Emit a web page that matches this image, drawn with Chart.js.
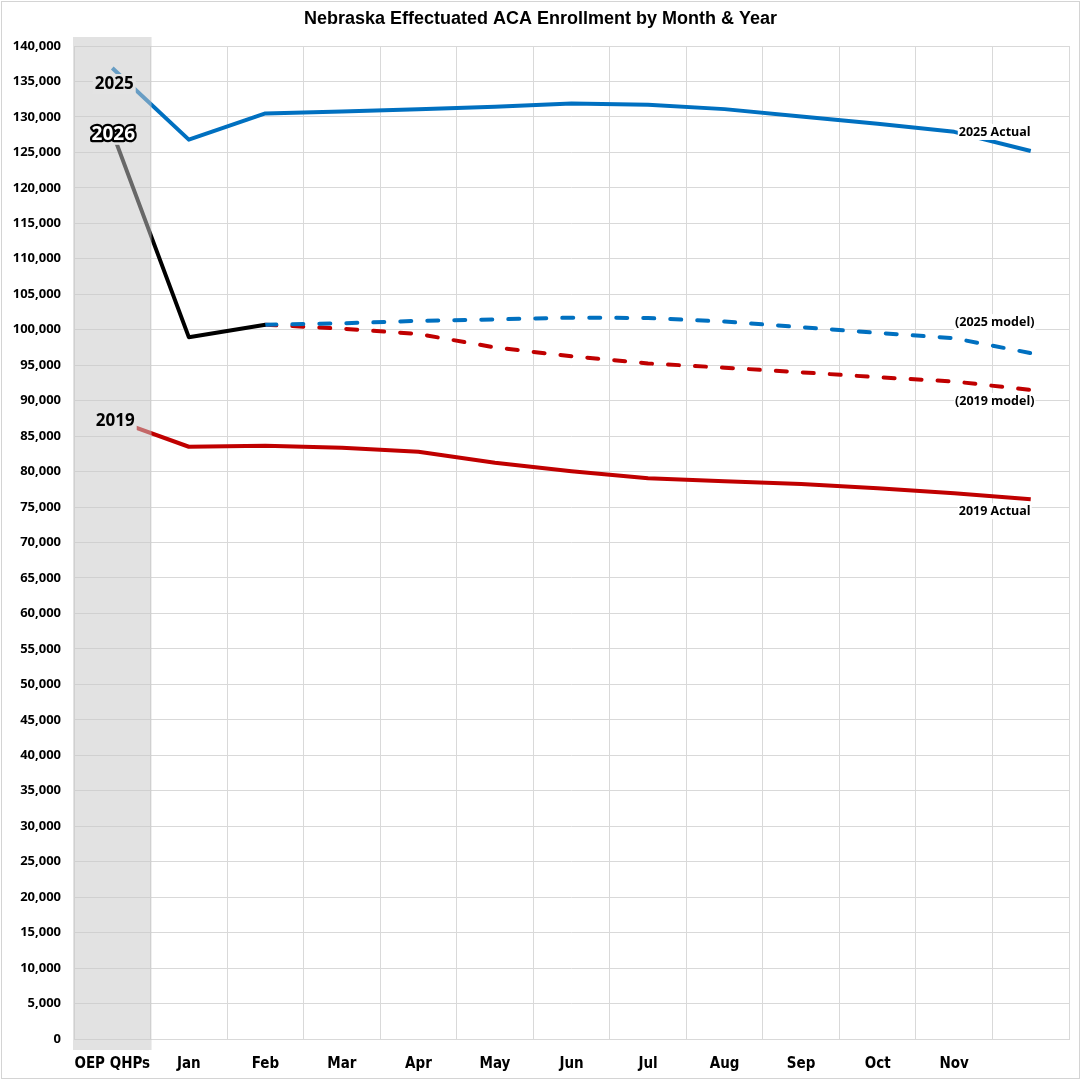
<!DOCTYPE html>
<html>
<head>
<meta charset="utf-8">
<title>Nebraska Effectuated ACA Enrollment</title>
<script src="https://cdn.jsdelivr.net/npm/chart.js@4.4.1/dist/chart.umd.min.js"></script>
<style>
  html, body { margin: 0; padding: 0; background: #fff; }
  #wrap { position: relative; width: 1081px; height: 1080px; }
</style>
</head>
<body>
<div id="wrap"><canvas id="enrollChart" width="1081" height="1080"></canvas></div>
<script>
// ---------- data ----------
const months = ['OEP QHPs', 'Jan', 'Feb', 'Mar', 'Apr', 'May', 'Jun', 'Jul', 'Aug', 'Sep', 'Oct', 'Nov', ''];

const actual2025 = [136900, 126800, 130500, 130750, 131100, 131450, 131900, 131700, 131100, 130050, 129050, 127900, 125200];
const actual2026 = [127900, 98950, 100700, null, null, null, null, null, null, null, null, null, null];
const model2025 = [null, null, 100700, 100900, 101250, 101450, 101700, 101650, 101150, 100350, 99550, 98800, 96700];
const model2019 = [null, null, 100700, 100150, 99400, 97500, 96250, 95250, 94650, 94000, 93300, 92700, 91500];
const actual2019 = [87400, 83500, 83650, 83350, 82800, 81250, 80050, 79050, 78650, 78250, 77650, 76950, 76100];

const yTicksMax = 140000;
const yTicksStep = 5000;

const BLUE = '#0070c0';
const RED = '#c00000';

// text labels tied to a dataset point: [datasetIndex, pointIndex, text, dx, dy, style]
const pointLabels = [
    [0, 0, '2025', 2, 16, 'left'],
    [1, 0, '2026', 1, 3, 'outline'],
    [4, 0, '2019', 3, 2, 'left'],
    [0, 12, '2025 Actual', -36, -19, 'right'],
    [2, 12, '(2025 model)', -36, -31, 'right'],
    [3, 12, '(2019 model)', -36, 11, 'right'],
    [4, 12, '2019 Actual', -36, 12, 'right']
];

const LABEL_FONT = '"Open Sans", Lato, sans-serif';

// 第一列的灰色遮罩 + 标题 + 标签
const decorPlugin = {
    id: 'decor',
    beforeDraw(chart) {
        const ctx = chart.ctx;
        ctx.save();
        ctx.fillStyle = '#fff';
        ctx.fillRect(0, 0, chart.width, chart.height);
        ctx.strokeStyle = '#d4d4d4';
        ctx.lineWidth = 1;
        ctx.strokeRect(1.5, 1.5, chart.width - 3, chart.height - 3);
        ctx.fillStyle = '#000';
        ctx.font = 'bold 18px "Liberation Sans", Arial, sans-serif';
        ctx.textAlign = 'center';
        ctx.textBaseline = 'middle';
        ctx.fillText('Nebraska Effectuated ACA Enrollment by Month & Year', chart.width / 2, 19);
        ctx.restore();
    },
    afterDatasetsDraw(chart) {
        const ctx = chart.ctx;
        const area = chart.chartArea;
        const x = chart.scales.x;
        const half = (x.getPixelForValue(1) - x.getPixelForValue(0)) / 2;
        ctx.save();
        // translucent gray column over OEP
        ctx.fillStyle = 'rgba(200,200,200,0.52)';
        const left = area.left - 1;
        const right = x.getPixelForValue(0) + half + 1;
        ctx.fillRect(left, area.top - 9, right - left, area.bottom - area.top + 20);

        ctx.textAlign = 'center';
        ctx.textBaseline = 'middle';
        pointLabels.forEach(([ds, idx, text, dx, dy, style]) => {
            const pt = chart.getDatasetMeta(ds).data[idx];
            if (!pt) return;
            const cx = pt.x + dx, cy = pt.y + dy;
            if (style === 'right') {
                ctx.font = 'bold 12.5px ' + LABEL_FONT;
                const w = ctx.measureText(text).width;
                ctx.fillStyle = '#fff';
                ctx.fillRect(cx - w / 2 - 1, cy - 8, w + 2, 16);
                ctx.fillStyle = '#000';
                ctx.fillText(text, cx, cy);
            } else if (style === 'left') {
                ctx.font = 'bold 17px ' + LABEL_FONT;
                const w = ctx.measureText(text).width;
                ctx.fillStyle = '#e3e3e3';
                ctx.fillRect(cx - w / 2 - 2, cy - 10, w + 4, 20);
                ctx.fillStyle = '#000';
                ctx.fillText(text, cx, cy);
            } else {
                ctx.font = 'bold 19px ' + LABEL_FONT;
                const w = ctx.measureText(text).width;
                ctx.fillStyle = '#e3e3e3';
                ctx.fillRect(cx - w / 2 - 2, cy - 10, w + 4, 20);
                ctx.lineJoin = 'round';
                ctx.lineWidth = 4.5;
                ctx.strokeStyle = '#000';
                ctx.strokeText(text, cx, cy);
                ctx.fillStyle = '#fff';
                ctx.fillText(text, cx, cy);
            }
        });
        ctx.restore();
    }
};

function lineSet(label, data, color, dashed) {
    return {
        label: label,
        data: data,
        borderColor: color,
        backgroundColor: color,
        borderWidth: 4,
        borderDash: dashed ? [11, 16] : [],
        borderCapStyle: dashed ? 'round' : 'butt',
        borderJoinStyle: 'round',
        pointRadius: 0,
        tension: 0,
        spanGaps: false,
        fill: false
    };
}

window.addEventListener('DOMContentLoaded', () => {
    const ctx = document.getElementById('enrollChart').getContext('2d');
    new Chart(ctx, {
        type: 'line',
        data: {
            labels: months,
            datasets: [
                lineSet('2025 Actual', actual2025, BLUE, false),
                lineSet('2026', actual2026, '#000', false),
                lineSet('2025 model', model2025, BLUE, true),
                lineSet('2019 model', model2019, RED, true),
                lineSet('2019 Actual', actual2019, RED, false)
            ]
        },
        options: {
            responsive: false,
            animation: false,
            devicePixelRatio: 1,
            layout: { padding: { top: 46, right: 12, left: 0, bottom: 0 } },
            plugins: {
                legend: { display: false },
                title: { display: false },
                tooltip: { enabled: false }
            },
            scales: {
                x: {
                    offset: true,
                    grid: { offset: true, color: '#d9d9d9', drawTicks: false },
                    border: { color: '#d9d9d9' },
                    afterFit: s => { s.height = 41; },
                    ticks: {
                        color: '#000',
                        padding: 16,
                        maxRotation: 0,
                        autoSkip: false,
                        font: { family: '"Liberation Sans Narrow", "DejaVu Sans Condensed", sans-serif', weight: 'bold', size: 15 }
                    }
                },
                y: {
                    min: 0,
                    max: yTicksMax,
                    grid: { color: '#d9d9d9', drawTicks: false },
                    border: { display: false },
                    afterFit: s => { s.width = 74; },
                    ticks: {
                        stepSize: yTicksStep,
                        color: '#000',
                        padding: 13,
                        font: { family: '"Open Sans", Lato, sans-serif', weight: 'bold', size: 13 },
                        callback: v => v.toLocaleString('en-US')
                    }
                }
            }
        },
        plugins: [decorPlugin]
    });
});
</script>
</body>
</html>
